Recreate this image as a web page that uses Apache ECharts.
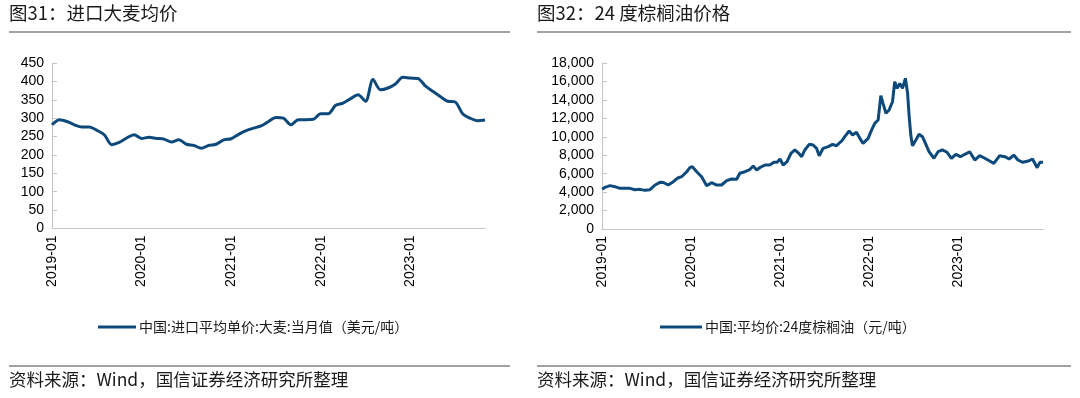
<!DOCTYPE html>
<html>
<head>
<meta charset="utf-8">
<script src="https://cdn.jsdelivr.net/npm/echarts@6/dist/echarts.min.js"></script>
<style>
html,body{margin:0;padding:0;background:#fff;}
#c{width:1080px;height:398px;}
</style>
</head>
<body>
<div id="c"></div>
<script>
// ---- Left chart: 进口大麦均价 (monthly) ----
const barleyMonths = [
 '2019-01','2019-02','2019-03','2019-04','2019-05','2019-06','2019-07','2019-08','2019-09','2019-10','2019-11','2019-12',
 '2020-01','2020-02','2020-03','2020-04','2020-05','2020-06','2020-07','2020-08','2020-09','2020-10','2020-11','2020-12',
 '2021-01','2021-02','2021-03','2021-04','2021-05','2021-06','2021-07','2021-08','2021-09','2021-10','2021-11','2021-12',
 '2022-01','2022-02','2022-03','2022-04','2022-05','2022-06','2022-07','2022-08','2022-09','2022-10','2022-11','2022-12',
 '2023-01','2023-02','2023-03','2023-04','2023-05','2023-06','2023-07','2023-08','2023-09','2023-10','2023-11'
];
const barleyPrice = [
 282,296,291,282,276,276,267,255,228,234,246,255,
 245,248,245,243,235,241,229,226,218,226,229,241,
 244,256,266,273,279,291,302,300,282,296,296,297,
 312,312,335,341,353,364,346,405,377,382,393,411,
 409,408,388,373,359,346,344,312,300,293,295
];
const barleyTicks = [0,50,100,150,200,250,300,350,400,450];

// ---- Right chart: 24度棕榈油价格 (daily, sampled) ----
const palmDates = [
 '2019-01-02','2019-01-13','2019-02-03','2019-02-23','2019-03-16','2019-04-05','2019-04-26','2019-05-16','2019-06-06','2019-06-26',
 '2019-07-17','2019-08-07','2019-08-27','2019-09-10','2019-09-30','2019-10-21','2019-11-06','2019-11-24','2019-12-15','2019-12-28',
 '2020-01-07','2020-01-25','2020-02-14','2020-03-06','2020-03-26','2020-04-16','2020-05-06','2020-05-27','2020-06-16','2020-07-07',
 '2020-07-20','2020-08-10','2020-08-28','2020-09-13','2020-09-27','2020-10-10','2020-10-31','2020-11-20','2020-12-07','2020-12-20',
 '2021-01-01','2021-01-14','2021-01-30','2021-02-15','2021-03-03','2021-03-19','2021-03-31','2021-04-13','2021-05-01','2021-05-17',
 '2021-05-31','2021-06-11','2021-06-27','2021-07-18','2021-08-05','2021-08-21','2021-09-11','2021-09-24','2021-10-12','2021-10-26',
 '2021-11-11','2021-11-25','2021-12-08','2021-12-29','2022-01-12','2022-01-25','2022-02-08','2022-02-19','2022-02-28','2022-03-12',
 '2022-03-25','2022-04-08','2022-04-17','2022-04-27','2022-05-08','2022-05-19','2022-05-31','2022-06-09','2022-06-15','2022-06-22',
 '2022-06-29','2022-07-13','2022-07-26','2022-08-09','2022-08-23','2022-09-05','2022-09-25','2022-10-12','2022-10-30','2022-11-18',
 '2022-12-06','2022-12-24','2023-01-12','2023-01-30','2023-02-19','2023-03-12','2023-04-01','2023-04-22','2023-05-12','2023-05-29',
 '2023-06-22','2023-07-13','2023-07-31','2023-08-19','2023-09-05','2023-09-25','2023-10-17','2023-11-04','2023-11-23','2023-12-04',
 '2023-12-17'
];
const palmPrice = [
 4300,4520,4700,4590,4410,4410,4410,4260,4300,4190,
 4260,4770,5060,5040,4770,5130,5500,5670,6210,6650,
 6760,6210,5670,4700,5020,4770,4770,5240,5420,5400,
 6040,6210,6400,6830,6400,6650,6940,6940,7230,7230,
 7590,6940,7300,8210,8570,8210,7840,8570,9180,9110,
 8750,7950,8750,8930,9180,9030,9540,10010,10630,10190,
 10480,9830,9290,9830,10730,11460,11820,14450,13630,12550,
 12900,13800,15970,15250,15790,15250,16340,14710,12360,10190,
 9030,9650,10270,10010,9180,8380,7670,8380,8570,8320,
 7670,8100,7840,8100,8380,7480,7950,7670,7370,7120,
 7950,7840,7590,8020,7480,7230,7370,7590,6650,7230,
 7230
];
const palmTicks = [0,2000,4000,6000,8000,10000,12000,14000,16000,18000];

const titles = ['图31：进口大麦均价', '图32：24 度棕榈油价格'];
const legendNames = ['中国:进口平均单价:大麦:当月值（美元/吨）', '中国:平均价:24度棕榈油（元/吨）'];
const sourceText = '资料来源：Wind，国信证券经济研究所整理';

const LINE = '#0d4a7b';
const AXIS = '#c4c4c4';
const LATIN = '"Liberation Sans", Arial, "Noto Sans CJK SC", sans-serif';
const CJK = '"Noto Sans CJK SC", "Liberation Sans", sans-serif';

const chart = echarts.init(document.getElementById('c'), null, {renderer: 'canvas'});

const commonY = {
  type: 'value',
  axisLine: {show: true, lineStyle: {color: AXIS, width: 1}},
  axisTick: {show: true, inside: true, length: 5, lineStyle: {color: AXIS}},
  splitLine: {show: false},
  axisLabel: {color: '#000', fontSize: 14, fontFamily: LATIN, margin: 8}
};

const option = {
  animation: false,
  backgroundColor: '#fff',
  title: [
    {text: titles[0], left: 9, top: 4, padding: 0, textStyle: {fontSize: 18.5, fontWeight: 'normal', color: '#1a1a1a', fontFamily: CJK}},
    {text: titles[1], left: 537, top: 4, padding: 0, textStyle: {fontSize: 18.5, fontWeight: 'normal', color: '#1a1a1a', fontFamily: CJK}},
    {text: sourceText, left: 9, top: 371, padding: 0, textStyle: {fontSize: 17.5, fontWeight: 'normal', color: '#1a1a1a', fontFamily: CJK}},
    {text: sourceText, left: 537, top: 371, padding: 0, textStyle: {fontSize: 17.5, fontWeight: 'normal', color: '#1a1a1a', fontFamily: CJK}}
  ],
  graphic: [
    {type: 'line', shape: {x1: 9, y1: 32, x2: 510, y2: 32}, style: {stroke: '#444', lineWidth: 1.2}},
    {type: 'line', shape: {x1: 537, y1: 32, x2: 1071, y2: 32}, style: {stroke: '#444', lineWidth: 1.2}},
    {type: 'line', shape: {x1: 9, y1: 366, x2: 510, y2: 366}, style: {stroke: '#444', lineWidth: 1.2}},
    {type: 'line', shape: {x1: 537, y1: 366, x2: 1071, y2: 366}, style: {stroke: '#444', lineWidth: 1.2}}
  ],
  legend: [
    {data: [legendNames[0]], left: 93, top: 315, icon: 'rect', itemWidth: 38, itemHeight: 3, itemGap: 5,
     textStyle: {fontSize: 14, color: '#1a1a1a', fontFamily: CJK, padding: [0,0,0,-2]}},
    {data: [legendNames[1]], left: 655, top: 315, icon: 'rect', itemWidth: 42, itemHeight: 3, itemGap: 5,
     textStyle: {fontSize: 14, color: '#1a1a1a', fontFamily: CJK, padding: [0,0,0,-2]}}
  ],
  grid: [
    {left: 52, top: 63, width: 433, height: 165.5, outerBoundsMode: 'none', containLabel: false},
    {left: 602, top: 63, width: 441, height: 166, outerBoundsMode: 'none', containLabel: false}
  ],
  xAxis: [
    {type: 'category', gridIndex: 0, data: barleyMonths, boundaryGap: false,
     axisLine: {lineStyle: {color: AXIS}}, axisTick: {show: false},
     axisLabel: {rotate: 90, interval: 11, color: '#000', fontSize: 14, fontFamily: LATIN, margin: 7}},
    {type: 'time', gridIndex: 1, min: '2019-01-01', max: '2023-12-17',
     minInterval: 365 * 24 * 3600 * 1000, maxInterval: 366 * 24 * 3600 * 1000,
     axisLine: {lineStyle: {color: AXIS}}, axisTick: {show: false}, splitLine: {show: false},
     axisLabel: {rotate: 90, color: '#000', fontSize: 14, fontFamily: LATIN, margin: 7,
       showMaxLabel: false, hideOverlap: false,
       formatter: function (v) {
         const d = new Date(v);
         const m = d.getMonth() + 1;
         return d.getFullYear() + '-' + (m < 10 ? '0' + m : m);
       }}}
  ],
  yAxis: [
    Object.assign({}, commonY, {gridIndex: 0, min: barleyTicks[0], max: barleyTicks[barleyTicks.length - 1], interval: 50}),
    Object.assign({}, commonY, {gridIndex: 1, min: palmTicks[0], max: palmTicks[palmTicks.length - 1], interval: 2000,
      axisLabel: Object.assign({}, commonY.axisLabel, {formatter: function (v) { return v.toLocaleString('en-US'); }})})
  ],
  series: [
    {name: legendNames[0], type: 'line', xAxisIndex: 0, yAxisIndex: 0, data: barleyPrice,
     showSymbol: false, symbol: 'none', smooth: 0.3,
     lineStyle: {color: LINE, width: 3}, itemStyle: {color: LINE}},
    {name: legendNames[1], type: 'line', xAxisIndex: 1, yAxisIndex: 1,
     data: palmDates.map(function (d, i) { return [d, palmPrice[i]]; }),
     showSymbol: false, symbol: 'none',
     lineStyle: {color: LINE, width: 3}, itemStyle: {color: LINE}}
  ]
};
chart.setOption(option);
</script>
</body>
</html>
